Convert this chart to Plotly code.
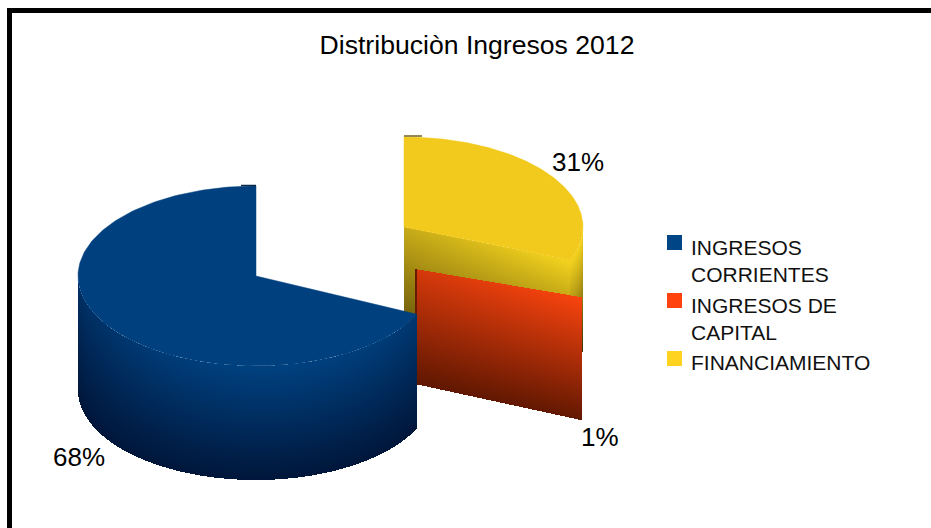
import numpy as np
import plotly.graph_objects as go

# ---- data
categories = ["INGRESOS<br>CORRIENTES", "INGRESOS DE<br>CAPITAL", "FINANCIAMIENTO"]
shares = [68, 1, 31]
title_text = "Distribuciòn Ingresos 2012"
legend_colors = ["#004586", "#ff420e", "#ffd320"]

W, H = 931, 528
DEPTH = 114
bounds = np.cumsum([0] + shares) * 3.6   # degrees, counter-clockwise from top


def pt(cx, cy, rx, ry, a):
    r = np.radians(a)
    return cx - rx * np.sin(r), cy - ry * np.cos(r)


def arc_polygon(cx, cy, rx, ry, a0, a1):
    a = np.linspace(a0, a1, 200)
    x, y = pt(cx, cy, rx, ry, a)
    return np.r_[cx, x, cx], np.r_[cy, y, cy]


def grid(x0, x1, y0, y1):
    xs = np.arange(x0, x1) + 0.5
    ys = np.arange(y0, y1) + 0.5
    X, Y = np.meshgrid(xs, ys)
    return xs, ys, X, Y


def wall_trace(xs, ys, z, c0, c1):
    return go.Heatmap(x=xs, y=ys, z=np.round(z, 3), zmin=0, zmax=1, showscale=False,
                      colorscale=[[0, c0], [1, c1]], hoverinfo="skip", zsmooth=False)


fig = go.Figure()

# ---- yellow slice (FINANCIAMIENTO), exploded up/right
cx, cy, rx, ry = 404, 227, 179, 90
ex, ey = pt(cx, cy, rx, ry, bounds[2])
xs, ys, X, Y = grid(404, 584, 225, 360)
u = (X - cx) / (ex - cx)
top = cy + (ey - cy) * u
t = (Y - top) / (DEPTH + 4)
z = (1 - 0.8 * t) * (0.75 + 0.25 * np.clip(u, 0, 1))
z[(t < 0) | (t > 1) | (X > ex)] = np.nan
outer_top = cy + ry * np.sqrt(np.clip(1 - ((X - cx) / rx) ** 2, 0, 1))
t2 = (Y - outer_top) / (DEPTH + 4)
mask = (X > ex) & (X < cx + rx) & (t2 >= 0) & (t2 <= 1)
z[mask] = (1 - t2[mask])
fig.add_trace(wall_trace(xs, ys, z, "#3d3005", "#f5d41e"))
px, py = arc_polygon(cx, cy, rx, ry, bounds[2], bounds[3])
fig.add_trace(go.Scatter(x=px, y=py, mode="lines", fill="toself", fillcolor="#f2ca1e",
                         line=dict(color="#f2ca1e", width=0.5), hoverinfo="skip", showlegend=False))
fig.add_trace(go.Scatter(x=[cx, cx + 18], y=[cy - ry - 1] * 2, mode="lines",
                         line=dict(color="#6f6222", width=1.5), hoverinfo="skip", showlegend=False))

# ---- red slice (INGRESOS DE CAPITAL), exploded
cx, cy, rx, ry = 415, 269, 180, 77
ex, ey = pt(cx, cy, rx, ry, bounds[2])
xs, ys, X, Y = grid(415, 584, 265, 425)
u = (X - cx) / (ex - cx)
top = cy + (ey - cy) * u
depth = DEPTH + 1 + 8 * u
t = (Y - top) / depth
z = (1 - 0.88 * t) * (0.78 + 0.22 * u)
z[X < 417.5] = 0.15
z[(t < 0) | (t > 1) | (X > ex)] = np.nan
fig.add_trace(wall_trace(xs, ys, z, "#4f1200", "#fa440e"))

# ---- blue slice (INGRESOS CORRIENTES)
cx, cy, rx, ry = 256, 276, 178, 90
ex, ey = pt(cx, cy, rx, ry, bounds[1])
xs, ys, X, Y = grid(78, 419, 270, 482)
top = cy + ry * np.sqrt(np.clip(1 - ((X - cx) / rx) ** 2, 0, 1))
t = (Y - top) / DEPTH
h = 1 - 0.35 * (((X - cx) / rx) - 0.1) ** 2
z = (1 - t) * h
z[(t < 0) | (t > 1) | (X > ex)] = np.nan
fig.add_trace(wall_trace(xs, ys, z, "#00163a", "#004180"))
px, py = arc_polygon(cx, cy, rx, ry, bounds[0], bounds[1])
fig.add_trace(go.Scatter(x=px, y=py, mode="lines", fill="toself", fillcolor="#00407e",
                         line=dict(color="#00407e", width=0.5), hoverinfo="skip", showlegend=False))
fig.add_trace(go.Scatter(x=[cx - 15, cx], y=[cy - ry - 0.5] * 2, mode="lines",
                         line=dict(color="#0b2a4c", width=1.5), hoverinfo="skip", showlegend=False))

# ---- legend keys (first line of each entry carries the swatch)
key_x, key_y = 674.5, [242.5, 300.5, 358.5]
text_y = [260.5, 318.5, 362]
for name, col, ky in zip(categories, legend_colors, key_y):
    fig.add_trace(go.Scatter(x=[key_x], y=[ky], mode="markers", name=name.replace("<br>", " "),
                             marker=dict(symbol="square", size=15, color=col, line=dict(width=0)),
                             hoverinfo="name", showlegend=False))

annotations = [dict(x=690, y=ty, text=name, showarrow=False, xanchor="left", yanchor="middle", align="left",
                    xshift=-1, font=dict(family="Liberation Sans", size=21, color="#111111"))
               for name, ty in zip(categories, text_y)]

# ---- percent labels
label_pos = [(79, 457), (600, 437), (578, 162)]
annotations += [dict(x=x, y=y, text=f"{v}%", showarrow=False, xanchor="center", yanchor="middle",
                     font=dict(family="Liberation Sans", size=26, color="black"))
                for (x, y), v in zip(label_pos, shares)]

# ---- frame (top and left black edges)
shapes = [
    dict(type="rect", x0=7, x1=W, y0=8, y1=13, fillcolor="black", line_width=0),
    dict(type="rect", x0=7, x1=12, y0=8, y1=H, fillcolor="black", line_width=0),
]

fig.update_layout(
    width=W, height=H, margin=dict(l=0, r=0, t=0, b=0),
    paper_bgcolor="white", plot_bgcolor="white", showlegend=False,
    title=dict(text=title_text, x=477 / W, y=1 - 45 / H, xanchor="center", yanchor="middle",
               font=dict(family="Liberation Sans", size=26.6, color="black")),
    xaxis=dict(range=[0, W], visible=False, fixedrange=True),
    yaxis=dict(range=[H, 0], visible=False, fixedrange=True),
    annotations=annotations, shapes=shapes,
)

fig.write_html("out.html", config=dict(displayModeBar=False),
               post_script="document.body.style.margin='0';document.body.style.overflow='hidden';")
